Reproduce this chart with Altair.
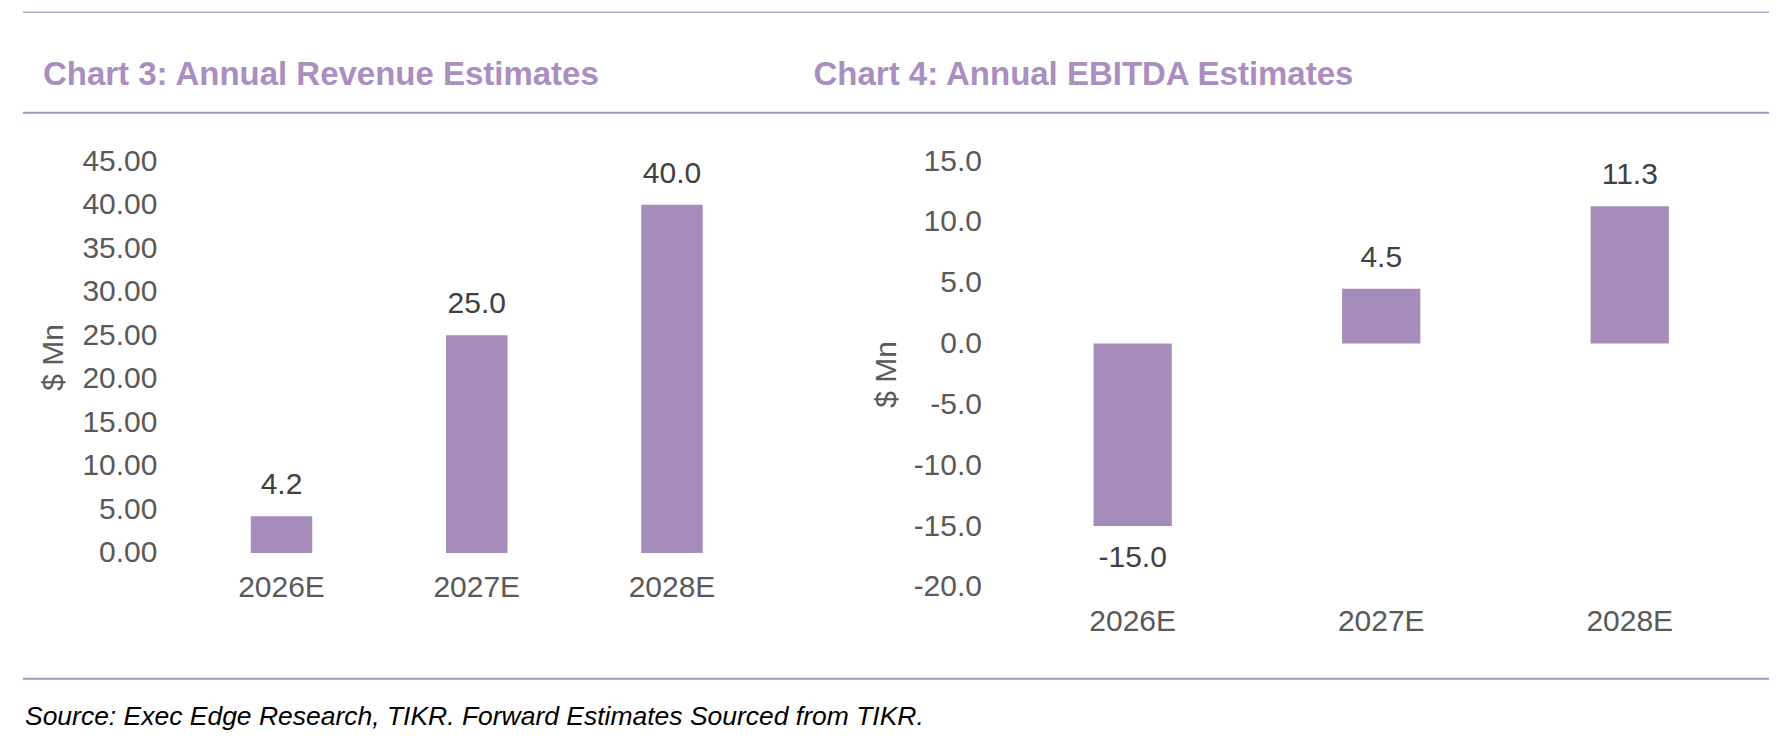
import pandas as pd
import altair as alt

# data
years = ["2026E", "2027E", "2028E"]
revenue = [4.2, 25.0, 40.0]
ebitda = [-15.0, 4.5, 11.3]

rev_ticks = [0, 5, 10, 15, 20, 25, 30, 35, 40, 45]
ebitda_ticks = [-20, -15, -10, -5, 0, 5, 10, 15]

titles = ["Chart 3: Annual Revenue Estimates", "Chart 4: Annual EBITDA Estimates"]
y_title = "$ Mn"
source = "Source: Exec Edge Research, TIKR. Forward Estimates Sourced from TIKR."

FONT = "Liberation Sans"
BAR = "#a68cba"
HEAD = "#a98ebf"
GREY = "#595959"
ZERO = "#d9d9d9"


def panel(values, domain, ticks, fmt, w, h, title_x):
    df = pd.DataFrame({"year": years, "value": values})
    x = alt.X("year:N", sort=years, title=None,
              scale=alt.Scale(paddingInner=0.685, paddingOuter=0.3425),
              axis=alt.Axis(domain=False, ticks=False, tickSize=0, labelAngle=0,
                            labelBaseline="middle", labelPadding=35))
    base = alt.Chart(df).encode(x=x).transform_calculate(
        lab="replace(format(datum.value, '.1f'), '\u2212', '-')")
    bars = base.mark_bar(color=BAR).encode(
        y=alt.Y("value:Q",
                scale=alt.Scale(domain=domain, nice=False, zero=True),
                axis=alt.Axis(values=ticks, grid=False, domain=False,
                              labelExpr=f"replace(format(datum.value, '{fmt}'), '\u2212', '-')",
                              ticks=False, tickSize=0, labelPadding=27,
                              title=y_title, titleX=title_x, titleY=h / 2,
                              titleAngle=-90, titleAlign="center",
                              titleBaseline="middle")))
    zero = base.mark_rule(color=ZERO, strokeWidth=2.5).encode(y=alt.datum(0))
    pos = (base.transform_filter("datum.value >= 0")
           .mark_text(dy=-31, baseline="middle", font=FONT, fontSize=30, color="#404040")
           .encode(y="value:Q", text="lab:N"))
    neg = (base.transform_filter("datum.value < 0")
           .mark_text(dy=32, baseline="middle", font=FONT, fontSize=30, color="#404040")
           .encode(y="value:Q", text="lab:N"))
    return alt.layer(bars, zero, pos, neg).properties(width=w, height=h)


# header / footer lines and texts, placed relative to the left plot
one = pd.DataFrame({"k": [0]})
deco = alt.Chart(one)
top_line = deco.mark_rule(color="#b9a7cc", strokeWidth=1.5).encode(
    x=alt.value(-161), x2=alt.value(1586), y=alt.value(-149))
mid_line = deco.mark_rule(color="#a892bf", strokeWidth=2).encode(
    x=alt.value(-161), x2=alt.value(1586), y=alt.value(-48.5))
bot_line = deco.mark_rule(color="#a892bf", strokeWidth=2).encode(
    x=alt.value(-161), x2=alt.value(1586), y=alt.value(518))
t3 = deco.mark_text(text=titles[0], align="left", baseline="alphabetic", font=FONT,
                    fontSize=33, fontWeight="bold", color=HEAD).encode(
    x=alt.value(-141), y=alt.value(-76))
t4 = deco.mark_text(text=titles[1], align="left", baseline="alphabetic", font=FONT,
                    fontSize=33, fontWeight="bold", color=HEAD).encode(
    x=alt.value(630), y=alt.value(-76))
src = deco.mark_text(text=source, align="left", baseline="alphabetic", font=FONT,
                     fontSize=26.5, fontStyle="italic", color="#000000").encode(
    x=alt.value(-159), y=alt.value(564))

left = alt.layer(panel(revenue, [0, 45], rev_ticks, ".2f", 586, 392, -130),
                 top_line, mid_line, bot_line, t3, t4, src)
right = panel(ebitda, [-20, 15], ebitda_ticks, ".1f", 746, 426, -122)

chart = (alt.hconcat(left, right, spacing=239, bounds="flush")
         .properties(padding={"left": 14, "top": 3, "right": 5, "bottom": 5})
         .configure_view(stroke=None)
         .configure_axis(labelFont=FONT, labelFontSize=30, labelColor=GREY,
                         titleFont=FONT, titleFontSize=30, titleColor=GREY,
                         titleFontWeight="normal"))

chart.save("out.html", embed_options={"renderer": "svg", "actions": False})
